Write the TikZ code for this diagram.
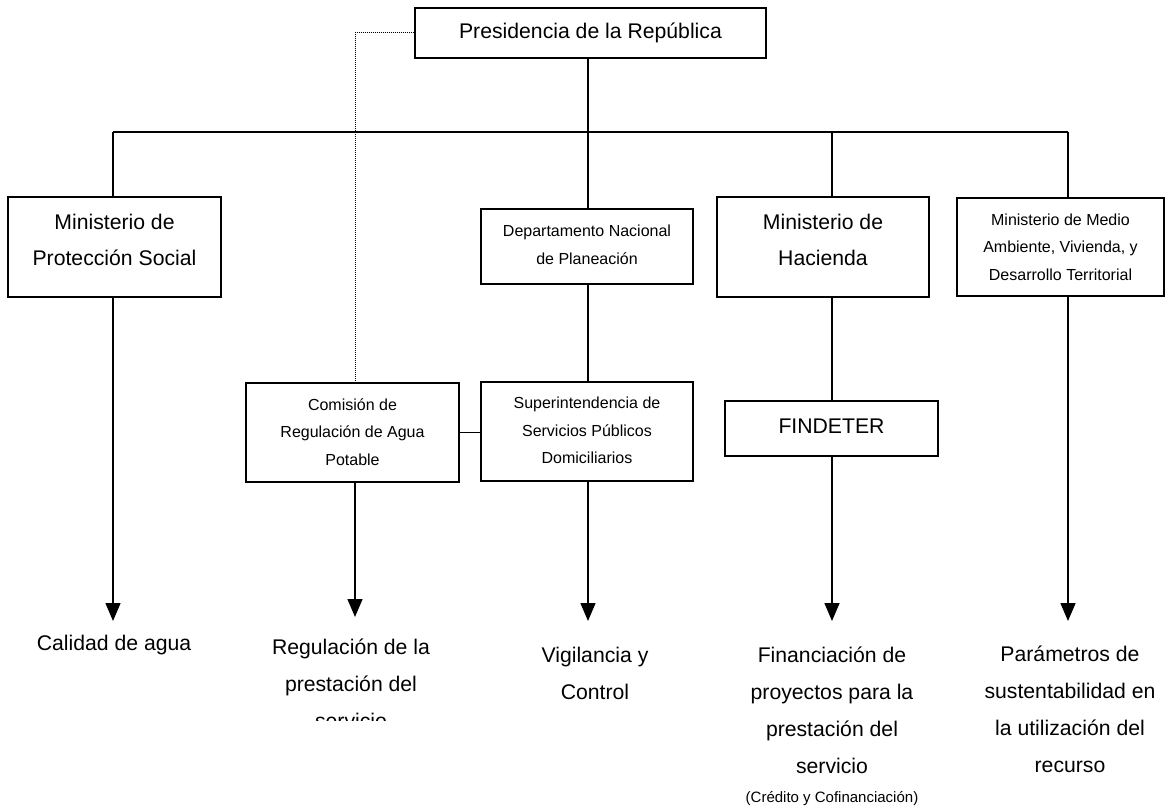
\documentclass[tikz,border=0pt]{standalone}
\usepackage{fontspec}
\setmainfont{Liberation Sans}
\usetikzlibrary{arrows.meta}
\tikzset{
  boxnode/.style={draw, line width=1.5pt, inner sep=0pt},
  txt/.style={inner sep=0pt, align=center},
  bigtext/.style={font=\fontsize{21.2}{36.5}\selectfont},
  smalltext/.style={font=\fontsize{16}{27.5}\selectfont},
  outtext/.style={font=\fontsize{21.2}{37}\selectfont},
  tinytext/.style={font=\fontsize{15}{18}\selectfont},
  link/.style={line width=1.5pt},
  arr/.style={line width=1.5pt, -{Triangle[length=18pt,width=15pt]}},
  dots/.style={line width=1pt, dash pattern=on 1pt off 1pt},
}
\begin{document}
\begin{tikzpicture}[x=1pt,y=-1pt]
\useasboundingbox (0,0) rectangle (1167,808);
% boxes
\node[boxnode, minimum width=351pt, minimum height=50pt] (pres) at (590.5,33) {};
\node[boxnode, minimum width=213pt, minimum height=100pt] (mps) at (114.5,247) {};
\node[boxnode, minimum width=212pt, minimum height=75pt] (dnp) at (587,246.5) {};
\node[boxnode, minimum width=212pt, minimum height=100pt] (mh) at (823,247) {};
\node[boxnode, minimum width=207pt, minimum height=98pt] (mma) at (1060.5,247) {};
\node[boxnode, minimum width=213pt, minimum height=99pt] (cra) at (352.5,432.5) {};
\node[boxnode, minimum width=212pt, minimum height=99pt] (ssp) at (587,431.5) {};
\node[boxnode, minimum width=213pt, minimum height=55pt] (fin) at (831.5,428.5) {};
% box texts
\node[txt, bigtext] (presT) at (590.5,33) {Presidencia de la República};
\node[txt, bigtext] (mpsT) at (114.5,240) {Ministerio de\\Protección Social};
\node[txt, smalltext] (dnpT) at (587,245) {Departamento Nacional\\de Planeación};
\node[txt, bigtext] (mhT) at (823,240) {Ministerio de\\Hacienda};
\node[txt, smalltext] (mmaT) at (1060.5,247) {Ministerio de Medio\\Ambiente, Vivienda, y\\Desarrollo Territorial};
\node[txt, smalltext] (craT) at (352.5,432) {Comisión de\\Regulación de Agua\\Potable};
\node[txt, smalltext] (sspT) at (587,430.5) {Superintendencia de\\Servicios Públicos\\Domiciliarios};
\node[txt, bigtext] (finT) at (831.5,426) {FINDETER};
% junctions
\coordinate (jL) at (113,132);
\coordinate (jC) at (588,132);
\coordinate (jH) at (832,132);
\coordinate (jR) at (1068,132);
\coordinate (jD) at (355,33);
% arrow ends
\coordinate (calA) at (113,621);
\coordinate (regA) at (355,617);
\coordinate (vigA) at (588,621);
\coordinate (finA) at (832,621);
\coordinate (parA) at (1068,621);
% outputs
\node[txt, outtext] (cal) at (114,645) {Calidad de agua};
\begin{scope}
\clip (230,600) rectangle (480,720);
\node[txt, outtext] (reg) at (351,684) {Regulación de la\\prestación del\\servicio};
\end{scope}
\node[txt, outtext] (vig) at (595,673) {Vigilancia y\\Control};
\node[txt, outtext] (fina) at (832,710) {Financiación de\\proyectos para la\\prestación del\\servicio};
\node[txt, tinytext] (cred) at (832,799) {(Crédito y Cofinanciación)};
\node[txt, outtext] (par) at (1070,709.5) {Parámetros de\\sustentabilidad en\\la utilización del\\recurso};
% connectors
\draw[link] (jC |- pres.south) -- (jC);
\draw[link] (jL) -- (jR);
\draw[link] (jL) -- (jL |- mps.north);
\draw[link] (jC) -- (jC |- dnp.north);
\draw[link] (jH) -- (jH |- mh.north);
\draw[link] (jR) -- (jR |- mma.north);
\draw[link] (jC |- dnp.south) -- (jC |- ssp.north);
\draw[link] (jH |- mh.south) -- (jH |- fin.north);
\draw[link] (cra.east) -- (cra.east -| ssp.west);
\draw[dots] (pres.west) -- (jD) -- (jD |- cra.north);
\draw[arr] (calA |- mps.south) -- (calA);
\draw[arr] (regA |- cra.south) -- (regA);
\draw[arr] (vigA |- ssp.south) -- (vigA);
\draw[arr] (finA |- fin.south) -- (finA);
\draw[arr] (parA |- mma.south) -- (parA);
\end{tikzpicture}
\end{document}
